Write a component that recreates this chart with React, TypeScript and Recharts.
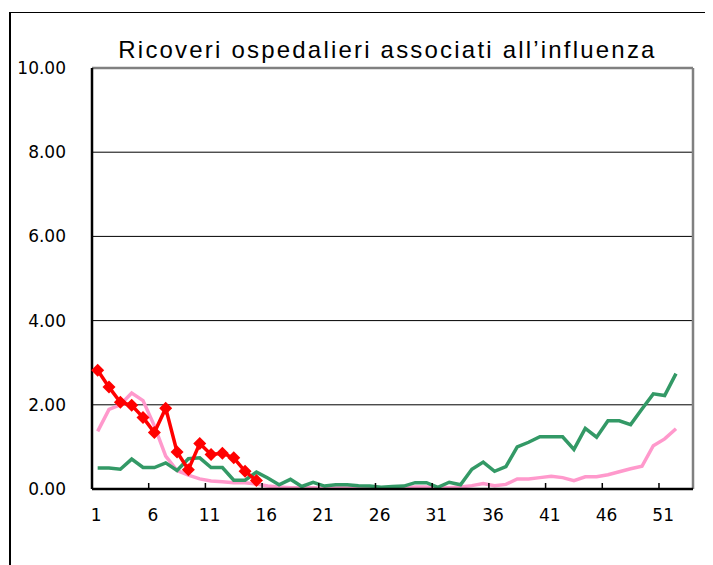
import React from 'react';
import { CartesianGrid, Line, LineChart, XAxis, YAxis } from 'recharts';

// settimane (categorie asse x)
const weeks = [
  1, 2, 3, 4, 5, 6, 7, 8, 9, 10, 11, 12, 13, 14, 15, 16, 17, 18, 19, 20, 21, 22, 23, 24, 25, 26,
  27, 28, 29, 30, 31, 32, 33, 34, 35, 36, 37, 38, 39, 40, 41, 42, 43, 44, 45, 46, 47, 48, 49, 50,
  51, 52,
];

const anno2023 = [
  1.37, 1.89, 2.0, 2.28, 2.1, 1.5, 0.78, 0.44, 0.33, 0.24, 0.19, 0.17, 0.15, 0.15, 0.12, 0.07, 0.05,
  0.03, 0.03, 0.03, 0.02, 0.03, 0.03, 0.03, 0.03, 0.02, 0.03, 0.03, 0.05, 0.05, 0.04, 0.03, 0.05,
  0.08, 0.13, 0.08, 0.11, 0.24, 0.24, 0.27, 0.3, 0.27, 0.2, 0.29, 0.29, 0.34, 0.41, 0.48, 0.54, 1.03,
  1.19, 1.43,
];

const anno2024 = [
  0.5, 0.5, 0.47, 0.71, 0.51, 0.51, 0.62, 0.44, 0.72, 0.74, 0.51, 0.51, 0.21, 0.21, 0.4, 0.26, 0.1,
  0.23, 0.06, 0.16, 0.07, 0.1, 0.1, 0.08, 0.07, 0.04, 0.06, 0.07, 0.15, 0.15, 0.04, 0.16, 0.1, 0.47,
  0.64, 0.42, 0.53, 1.0, 1.11, 1.24, 1.24, 1.24, 0.94, 1.44, 1.23, 1.62, 1.62, 1.53, 1.9, 2.26, 2.22,
  2.74,
];

const anno2025 = [2.82, 2.42, 2.06, 1.99, 1.7, 1.34, 1.92, 0.88, 0.46, 1.08, 0.82, 0.85, 0.74, 0.42, 0.2];

const yTicks = [0, 2, 4, 6, 8, 10];

const data = weeks.map((w, i) => ({
  week: w,
  anno2023: anno2023[i],
  anno2024: anno2024[i],
  anno2025: i < anno2025.length ? anno2025[i] : null,
}));

const FONT = '"DejaVu Sans", sans-serif';
const BAND = 601 / 53;

const WeekTick = (props: any) => {
  const { x, y, payload } = props;
  const tx = x - BAND / 2;
  return (
    <g>
      <line x1={tx} y1={y} x2={tx} y2={y - 6} stroke="#000" strokeWidth={1.5} />
      <text x={x - 1.5} y={y + 32} textAnchor="middle" fontSize={17} fontFamily={FONT} fill="#000">
        {payload.value}
      </text>
    </g>
  );
};

const Diamond = (props: any) => {
  const { cx, cy, index } = props;
  if (cx == null || cy == null) return <g key={index} />;
  const r = 6.5;
  return (
    <polygon
      key={index}
      points={`${cx},${cy - r} ${cx + r},${cy} ${cx},${cy + r} ${cx - r},${cy}`}
      fill="#FF0000"
    />
  );
};

export default function App() {
  return (
    <div style={{ position: 'relative', width: 713, height: 565 }}>
      <div
        style={{
          position: 'absolute',
          left: 1,
          top: 4,
          width: 700,
          height: 553,
          borderLeft: '2px solid #000',
          borderTop: '1px solid #000',
        }}
      />
      <div
        style={{
          position: 'absolute',
          left: -8,
          top: 30,
          width: 775,
          textAlign: 'center',
          fontFamily: '"Liberation Sans", Arial, sans-serif',
          fontSize: 24,
          lineHeight: '24px',
          letterSpacing: 2.2,
          color: '#000',
        }}
      >
        Ricoveri ospedalieri associati all’influenza
      </div>
      <div style={{ position: 'absolute', left: -8, top: -8 }}>
        <LineChart width={713} height={565} data={data} margin={{ top: 68, right: 20, bottom: 35, left: 0 }}>
          <CartesianGrid vertical={false} stroke="#000" strokeWidth={1} />
          <CartesianGrid
            horizontal
            vertical
            stroke="#808080"
            strokeWidth={2.5}
            horizontalCoordinatesGenerator={({ offset }: any) => [offset.top]}
            verticalCoordinatesGenerator={({ offset }: any) => [offset.left + offset.width]}
          />
          <XAxis
            dataKey="week"
            interval={4}
            height={41}
            padding={{ left: BAND / 2, right: BAND * 1.5 }}
            axisLine={{ stroke: '#000', strokeWidth: 2.5 }}
            tickLine={false}
            tickSize={0}
            tickMargin={0}
            tick={<WeekTick />}
          />
          <YAxis
            width={92}
            domain={[0, 10]}
            ticks={yTicks}
            interval={0}
            tickFormatter={(v: number) => v.toFixed(2)}
            axisLine={{ stroke: '#000', strokeWidth: 2.5 }}
            tickLine={false}
            tickSize={0}
            tickMargin={26}
            tick={{ fontSize: 17, fontFamily: FONT, fill: '#000' }}
          />
          <Line
            dataKey="anno2023"
            stroke="#FF99CC"
            strokeWidth={3.5}
            dot={false}
            activeDot={false}
            isAnimationActive={false}
          />
          <Line
            dataKey="anno2024"
            stroke="#339966"
            strokeWidth={3.5}
            dot={false}
            activeDot={false}
            isAnimationActive={false}
          />
          <Line
            dataKey="anno2025"
            stroke="#FF0000"
            strokeWidth={3.5}
            dot={<Diamond />}
            activeDot={false}
            isAnimationActive={false}
          />
        </LineChart>
      </div>
    </div>
  );
}
